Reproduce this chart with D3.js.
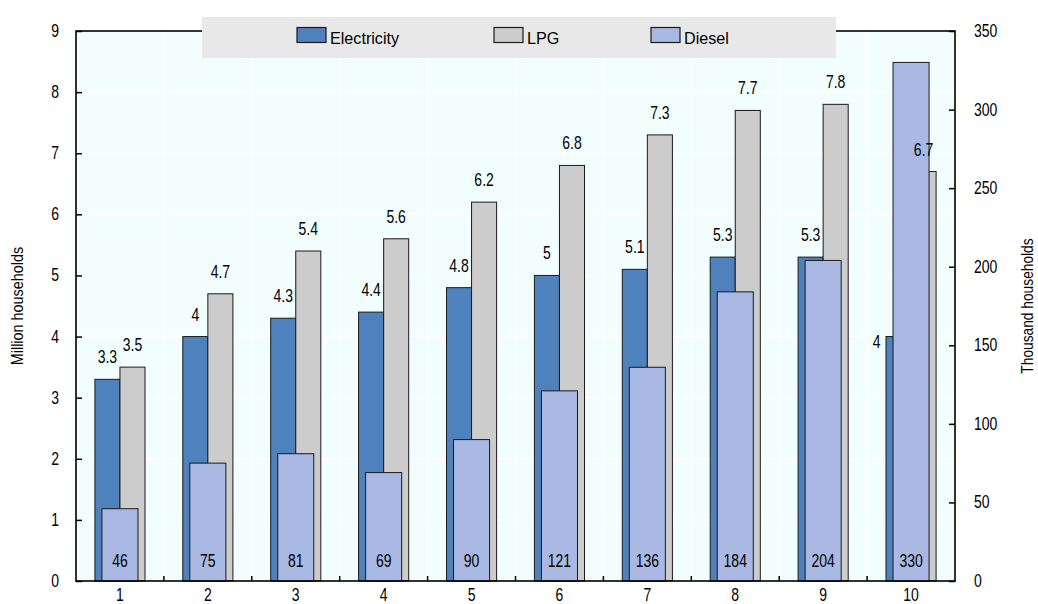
<!DOCTYPE html>
<html>
<head>
<meta charset="utf-8">
<script src="https://cdn.jsdelivr.net/npm/d3@7"></script>
<style>
  html, body { margin: 0; padding: 0; background: #ffffff; }
  svg text { font-family: "Liberation Sans", Arial, sans-serif; fill: #000; }
</style>
</head>
<body>
<svg id="chart" width="1038" height="604"></svg>
<script>
// Households by heating fuel, per group
const categories = ["1", "2", "3", "4", "5", "6", "7", "8", "9", "10"];
const electricity = [3.3, 4, 4.3, 4.4, 4.8, 5, 5.1, 5.3, 5.3, 4];      // million households
const lpg = [3.5, 4.7, 5.4, 5.6, 6.2, 6.8, 7.3, 7.7, 7.8, 6.7];          // million households
const diesel = [46, 75, 81, 69, 90, 121, 136, 184, 204, 330];             // thousand households
const leftTicks = [0, 1, 2, 3, 4, 5, 6, 7, 8, 9];
const rightTicks = [0, 50, 100, 150, 200, 250, 300, 350];
const seriesNames = ["Electricity", "LPG", "Diesel"];

const colors = { Electricity: "#4f81bd", LPG: "#cccccc", Diesel: "#a9b9e3" };

const svg = d3.select("#chart");
const margin = { left: 76, right: 83, top: 31, bottom: 23 };
const W = 1038, H = 604;
const x0 = margin.left, x1 = W - margin.right;
const y0 = H - margin.bottom, y1 = margin.top;

// condensed lettering: text is placed with a transform and squeezed horizontally
function place(sel, fx, fy, rot, squeeze = 0.8) {
  return sel.attr("transform", (d, i) =>
    `translate(${fx(d, i)},${fy(d, i)})` + (rot ? ` rotate(${rot})` : "") + ` scale(${squeeze},1)`);
}

const x = d3.scaleBand().domain(categories).range([x0, x1]).padding(0);
const yL = d3.scaleLinear().domain([0, 9]).range([y0, y1]);
const yR = d3.scaleLinear().domain([0, 350]).range([y0, y1]);

const pairWidth = x.bandwidth() * 0.57;
const inner = d3.scaleBand().domain(["Electricity", "LPG"])
  .range([(x.bandwidth() - pairWidth) / 2, (x.bandwidth() + pairWidth) / 2]).padding(0);
const dieselWidth = x.bandwidth() * 0.41;

// plot background
svg.append("rect").attr("x", x0).attr("y", y1).attr("width", x1 - x0).attr("height", y0 - y1)
  .attr("fill", "#f2fefe");

// gridlines
svg.append("g").selectAll("line").data(leftTicks.slice(1, -1)).join("line")
  .attr("x1", x0).attr("x2", x1).attr("y1", d => yL(d)).attr("y2", d => yL(d))
  .attr("stroke", "#ffffff").attr("stroke-width", 1.5);
svg.append("g").selectAll("line").data(categories.slice(1)).join("line")
  .attr("x1", d => x(d)).attr("x2", d => x(d)).attr("y1", y1).attr("y2", y0)
  .attr("stroke", "#ffffff").attr("stroke-width", 1.5);

// electricity and LPG bars side by side
const pairs = categories.map((c, i) => [
  { cat: c, key: "Electricity", v: electricity[i] },
  { cat: c, key: "LPG", v: lpg[i] }
]).flat();

svg.append("g").selectAll("rect").data(pairs).join("rect")
  .attr("x", d => x(d.cat) + inner(d.key))
  .attr("y", d => yL(d.v))
  .attr("width", inner.bandwidth())
  .attr("height", d => yL(0) - yL(d.v))
  .attr("fill", d => colors[d.key])
  .attr("stroke", "#1a1a1a").attr("stroke-width", 1);

// diesel bars on the secondary axis, drawn over the pair
const dieselData = categories.map((c, i) => ({ cat: c, v: diesel[i] }));
svg.append("g").selectAll("rect").data(dieselData).join("rect")
  .attr("x", d => x(d.cat) + (x.bandwidth() - dieselWidth) / 2)
  .attr("y", d => yR(d.v))
  .attr("width", dieselWidth)
  .attr("height", d => yR(0) - yR(d.v))
  .attr("fill", colors.Diesel)
  .attr("stroke", "#1a1a1a").attr("stroke-width", 1);

// frame
svg.append("rect").attr("x", x0).attr("y", y1).attr("width", x1 - x0).attr("height", y0 - y1)
  .attr("fill", "none").attr("stroke", "#000").attr("stroke-width", 1.6);

// axes
const fontSize = 17.5;
const axL = svg.append("g").attr("transform", `translate(${x0},0)`)
  .call(d3.axisRight(yL).tickValues(leftTicks).tickSize(6).tickFormat(""));
axL.select(".domain").remove();
axL.selectAll("line").attr("stroke", "#000").attr("stroke-width", 1.5);
place(svg.append("g").selectAll("text").data(leftTicks).join("text"),
  () => x0 - 17, d => yL(d) + 6)
  .attr("text-anchor", "end").attr("font-size", fontSize).text(d => d);

const axR = svg.append("g").attr("transform", `translate(${x1},0)`)
  .call(d3.axisLeft(yR).tickValues(rightTicks).tickSize(6).tickFormat(""));
axR.select(".domain").remove();
axR.selectAll("line").attr("stroke", "#000").attr("stroke-width", 1.5);
place(svg.append("g").selectAll("text").data(rightTicks).join("text"),
  () => x1 + 19, d => yR(d) + 6)
  .attr("text-anchor", "start").attr("font-size", fontSize).text(d => d);

// category boundary ticks along the bottom
svg.append("g").selectAll("line").data(categories.slice(1)).join("line")
  .attr("x1", d => x(d)).attr("x2", d => x(d)).attr("y1", y0).attr("y2", y0 - 5)
  .attr("stroke", "#000").attr("stroke-width", 1.5);
place(svg.append("g").selectAll("text").data(categories).join("text"),
  d => x(d) + x.bandwidth() / 2, () => y0 + 20)
  .attr("text-anchor", "middle").attr("font-size", fontSize).text(d => d);

// axis titles
place(svg.append("text"), () => 23, () => (y0 + y1) / 2, -90, 0.9)
  .attr("text-anchor", "middle").attr("font-size", 16).text("Million households");
place(svg.append("text"), () => 1033, () => (y0 + y1) / 2, -90, 0.86)
  .attr("text-anchor", "middle").attr("font-size", 16).text("Thousand households");

// value labels; the last electricity label sits beside its bar to clear the diesel bar
const labelNudge = { "Electricity-10": [-22, 27] };
const nudge = d => labelNudge[d.key + "-" + d.cat] || [0, 0];
place(svg.append("g").selectAll("text").data(pairs).join("text"),
  d => x(d.cat) + inner(d.key) + inner.bandwidth() / 2 + nudge(d)[0],
  d => yL(d.v) - 16 + nudge(d)[1])
  .attr("text-anchor", "middle").attr("font-size", fontSize).text(d => d.v);

place(svg.append("g").selectAll("text").data(dieselData).join("text"),
  d => x(d.cat) + x.bandwidth() / 2, () => yR(0) - 14)
  .attr("text-anchor", "middle").attr("font-size", fontSize).text(d => d.v);

// legend
const lg = svg.append("g");
lg.append("rect").attr("x", 202).attr("y", 17).attr("width", 634).attr("height", 41).attr("fill", "#e8e8e8");
const legendX = [297, 494, 651];
seriesNames.forEach((name, i) => {
  lg.append("rect").attr("x", legendX[i]).attr("y", 27.5).attr("width", 29).attr("height", 15)
    .attr("fill", colors[name]).attr("stroke", "#1a1a1a").attr("stroke-width", 1.2);
  place(lg.append("text"), () => legendX[i] + 33, () => 44, 0, 0.95)
    .attr("font-size", 17).text(name);
});
</script>
</body>
</html>
